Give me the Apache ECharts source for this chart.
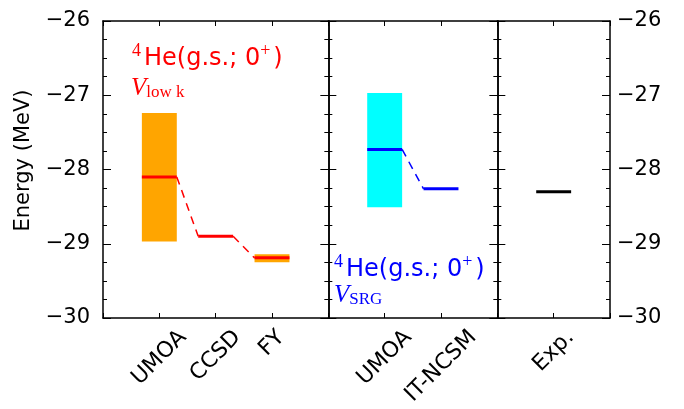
<!DOCTYPE html>
<html><head><meta charset="utf-8">
<script src="https://cdn.jsdelivr.net/npm/echarts@6/dist/echarts.min.js"></script>
<style>html,body{margin:0;padding:0;background:#fff}#c{width:684px;height:409px}</style>
</head><body><div id="c"></div>
<script>
// ---- data ----
const vlowkMethods = ['UMOA', 'CCSD', 'FY'];
const vlowkEnergy = [-28.10, -28.90, -29.19];
const vlowkBandLow = [-28.97, null, -29.25];
const vlowkBandHigh = [-27.24, null, -29.14];
const srgMethods = ['UMOA', 'IT-NCSM'];
const srgEnergy = [-27.73, -28.26];
const srgBandLow = [-28.51, null];
const srgBandHigh = [-26.97, null];
const expMethods = ['Exp.'];
const expEnergy = [-28.30];
const yMin = -30, yMax = -26, yStep = 1;

// ---- layout / style ----
const FONT = 'DejaVu Sans';
const SERIF = 'Liberation Serif';
const TICK_FS = 21, XLAB_FS = 22, NOTE_FS = 24;
const gridLeft = 103, gridTop = 21, gridBottomY = 318, gridRightX = 610;
const panelUnits = [4, 3, 2];
const unitPx = (gridRightX - gridLeft) / 9;
const hw = 0.31;

const panels = [
  {methods: vlowkMethods, energy: vlowkEnergy, low: vlowkBandLow, high: vlowkBandHigh, line: '#ff0000', band: '#ffa500'},
  {methods: srgMethods, energy: srgEnergy, low: srgBandLow, high: srgBandHigh, line: '#0000ff', band: '#00ffff'},
  {methods: expMethods, energy: expEnergy, low: [null], high: [null], line: '#000000', band: null}
];

// measure label lengths for matplotlib-like rotated centering
const cv = document.createElement('canvas').getContext('2d');
cv.font = XLAB_FS + 'px "' + FONT + '"';
const allNames = [];
panels.forEach(p => p.methods.forEach(m => allNames.push(m)));
const lens = allNames.map(n => cv.measureText(n).width);
const Lmax = Math.max(...lens);
const rich = {};
lens.forEach((L, i) => {
  const pd = (Lmax - L) / 2;
  rich['s' + i] = {fontFamily: FONT, fontSize: XLAB_FS, color: '#000', padding: [0, 0, pd, pd]};
});
const labelMargin = 7 + (Lmax + XLAB_FS * 1.17) / (2 * Math.SQRT2);

const minusFmt = v => String(v).replace('-', '\u2212');

const grids = [], xAxes = [], yAxes = [], series = [];
let start = 0, nameIdx = 0;
panels.forEach((p, pi) => {
  const units = panelUnits[pi];
  grids.push({left: gridLeft + start * unitPx, top: gridTop, width: units * unitPx, height: gridBottomY - gridTop});
  const pos = p.methods.map((m, i) => start + i + 1);
  const labelMap = {};
  pos.forEach((x, i) => { labelMap[x] = {name: p.methods[i], idx: nameIdx + i}; });
  nameIdx += p.methods.length;
  const xBase = {type: 'value', gridIndex: pi, min: start, max: start + units, interval: 1,
    splitLine: {show: false},
    axisLine: {show: true, onZero: false, lineStyle: {color: '#000', width: 1.5}},
    axisTick: {show: true, inside: true, length: 5, lineStyle: {color: '#000', width: 1}}};
  xAxes.push(Object.assign({}, xBase, {position: 'bottom',
    axisLabel: {show: true, rotate: 45, align: 'center', verticalAlign: 'middle', margin: labelMargin,
      fontFamily: FONT, fontSize: XLAB_FS, color: '#000', rich: rich,
      showMinLabel: true, showMaxLabel: true,
      formatter: v => labelMap[v] ? '{s' + labelMap[v].idx + '|' + labelMap[v].name + '}' : ''}}));
  xAxes.push(Object.assign({}, xBase, {position: 'top', axisLabel: {show: false}}));
  const yBase = {type: 'value', gridIndex: pi, min: yMin, max: yMax, interval: yStep,
    splitLine: {show: false},
    axisLine: {show: true, onZero: false, lineStyle: {color: '#000', width: 1.5}},
    axisTick: {show: true, inside: true, length: 8, lineStyle: {color: '#000', width: 1}},
    minorTick: {show: true, splitNumber: 4, length: 4, lineStyle: {color: '#000', width: 1}}};
  yAxes.push(Object.assign({}, yBase, {position: 'left',
    axisLabel: {show: pi === 0, margin: 13, fontFamily: FONT, fontSize: TICK_FS, color: '#000', formatter: minusFmt},
    name: pi === 0 ? 'Energy (MeV)' : '', nameLocation: 'middle', nameGap: 69,
    nameTextStyle: {fontFamily: FONT, fontSize: 21, color: '#000', padding: [0, 0, 0, 18]}}));
  yAxes.push(Object.assign({}, yBase, {position: 'right',
    axisLabel: {show: pi === 2, margin: 7, fontFamily: FONT, fontSize: TICK_FS, color: '#000', formatter: minusFmt}}));

  // bands
  const bandData = [];
  pos.forEach((x, i) => { if (p.low[i] != null) bandData.push([x, p.low[i], p.high[i]]); });
  if (p.band && bandData.length) {
    series.push({type: 'custom', xAxisIndex: 2 * pi, yAxisIndex: 2 * pi, z: 1, silent: true,
      data: bandData,
      renderItem: (params, api) => {
        const a = api.coord([api.value(0) - hw, api.value(2)]);
        const b = api.coord([api.value(0) + hw, api.value(1)]);
        return {type: 'rect', shape: {x: a[0], y: a[1], width: b[0] - a[0], height: b[1] - a[1]},
          style: {fill: p.band}};
      }});
  }
  // levels
  series.push({type: 'custom', xAxisIndex: 2 * pi, yAxisIndex: 2 * pi, z: 3, silent: true,
    data: pos.map((x, i) => [x, p.energy[i]]),
    renderItem: (params, api) => {
      const a = api.coord([api.value(0) - hw, api.value(1)]);
      const b = api.coord([api.value(0) + hw, api.value(1)]);
      return {type: 'line', shape: {x1: a[0], y1: a[1], x2: b[0], y2: b[1]},
        style: {stroke: p.line, lineWidth: 3}};
    }});
  // connectors
  const conn = [];
  for (let i = 0; i + 1 < pos.length; i++) conn.push([pos[i] + hw, p.energy[i], pos[i + 1] - hw, p.energy[i + 1]]);
  if (conn.length) {
    series.push({type: 'custom', xAxisIndex: 2 * pi, yAxisIndex: 2 * pi, z: 2, silent: true,
      data: conn,
      renderItem: (params, api) => {
        const a = api.coord([api.value(0), api.value(1)]);
        const b = api.coord([api.value(2), api.value(3)]);
        return {type: 'line', shape: {x1: a[0], y1: a[1], x2: b[0], y2: b[1]},
          style: {stroke: p.line, lineWidth: 1.5, lineDash: [8, 6]}};
      }});
  }
  start += units;
});

function noteRich(color) {
  return {
    sup: {fontFamily: SERIF, fontSize: 18, fill: color, color: color, verticalAlign: 'top', padding: [0, 3, 0, 0]},
    t: {fontFamily: FONT, fontSize: NOTE_FS, fill: color, color: color, verticalAlign: 'bottom', padding: [5, 0, 0, 0]},
    v: {fontFamily: SERIF, fontStyle: 'italic', fontSize: 25, fill: color, color: color},
    sub: {fontFamily: SERIF, fontSize: 17, fill: color, color: color, verticalAlign: 'bottom', padding: [6, 0, 0, 0]}
  };
}
const graphics = [
  {type: 'text', x: 132, y: 42, silent: true, style: {text: '{sup|4}{t|He(g.s.; 0}{sup|+}{t|)}', rich: noteRich('#ff0000'), verticalAlign: 'top'}},
  {type: 'text', x: 131, y: 76, silent: true, style: {text: '{v|V}{sub|low k}', rich: noteRich('#ff0000'), verticalAlign: 'top'}},
  {type: 'text', x: 334, y: 253, silent: true, style: {text: '{sup|4}{t|He(g.s.; 0}{sup|+}{t|)}', rich: noteRich('#0000ff'), verticalAlign: 'top'}},
  {type: 'text', x: 334, y: 283, silent: true, style: {text: '{v|V}{sub|SRG}', rich: noteRich('#0000ff'), verticalAlign: 'top'}}
];

const chart = echarts.init(document.getElementById('c'), null, {renderer: 'canvas'});
chart.setOption({
  animation: false,
  backgroundColor: '#fff',
  grid: grids, xAxis: xAxes, yAxis: yAxes, series: series, graphic: graphics
});
</script></body></html>
